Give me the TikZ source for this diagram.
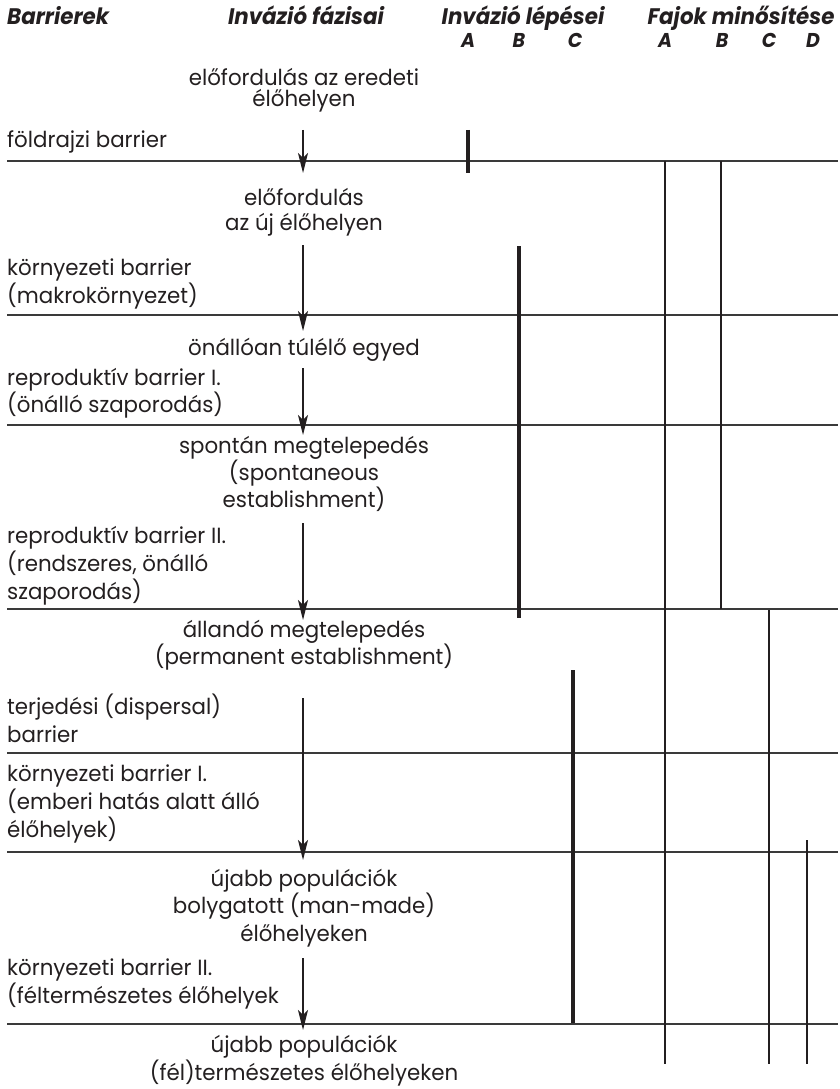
\documentclass[tikz,border=0pt]{standalone}
\usepackage{fontspec}
\setmainfont{Poppins}[FakeStretch=0.97]
\newfontfamily\hdrfamily{Poppins}[FakeStretch=0.95]
\usetikzlibrary{arrows.meta}
\definecolor{ink}{HTML}{231F20}
\definecolor{rule}{HTML}{3A3A3A}
\newcommand{\bodyfont}{\fontsize{22}{28}\selectfont}
\newcommand{\hdrfont}{\hdrfamily\fontsize{22.5}{26}\selectfont\bfseries\itshape}
\newcommand{\letfont}{\hdrfamily\fontsize{20}{24}\selectfont\bfseries\itshape}
\tikzset{
  lefttxt/.style={anchor=base west, align=left, inner sep=0pt, font=\bodyfont, text=ink},
  midtxt/.style={anchor=base, align=center, inner sep=0pt, font=\bodyfont, text=ink},
  hdr/.style={anchor=base, inner sep=0pt, font=\hdrfont, text=ink},
  lettr/.style={anchor=base, inner sep=0pt, font=\letfont, text=ink},
  barrierline/.style={draw=rule, line width=1.6pt},
  thickbar/.style={draw=ink, line width=4.6pt},
  thinbar/.style={draw=ink, line width=2.5pt},
  arr/.style={draw=ink, line width=1.3pt, -{Stealth[length=20pt, width=10pt, inset=5pt]}}
}
\begin{document}
\begin{tikzpicture}[x=1pt, y=-1pt]
\useasboundingbox (0,0) rectangle (839,1089);

% headers
\node[hdr, anchor=base west] (h1) at (7,25) {Barrierek};
\node[hdr] (h2) at (306,25) {Invázió fázisai};
\node[hdr] (h3) at (523,25) {Invázió lépései};
\node[hdr] (h4) at (741,25) {Fajok minősítése};
\node[lettr] (lA) at (468,48) {A};
\node[lettr] (lB) at (519,48) {B};
\node[lettr] (lC) at (575,48) {C};
\node[lettr] (fA) at (665,48) {A};
\node[lettr] (fB) at (722,48) {B};
\node[lettr] (fC) at (769,48) {C};
\node[lettr] (fD) at (813,48) {D};

% barrier lines
\foreach \y in {161,315,425,609,753,852,1024}
  \draw[barrierline] (7,\y) -- (838,\y);

% invasion step bars
\draw[thickbar] (468,130) -- (468,173);
\draw[thickbar] (519,246) -- (519,618);
\draw[thickbar] (573,670) -- (573,1023);
% species category bars
\draw[thinbar] (665,161) -- (665,1064);
\draw[thinbar] (721,161) -- (721,609);
\draw[thinbar] (769,610) -- (769,1064);
\draw[thinbar] (807,840) -- (807,1064);

% barriers (left column); anchor = baseline of last line
\node[lefttxt] (b1) at (7,147) {földrajzi barrier};
\node[lefttxt] (b2) at (7,303) {környezeti barrier\\(makrokörnyezet)};
\node[lefttxt] (b3) at (7,412) {reproduktív barrier I.\\[-1pt](önálló szaporodás)};
\node[lefttxt] (b4) at (7,599) {reproduktív barrier II.\\(rendszeres, önálló\\szaporodás)};
\node[lefttxt] (b5) at (7,742) {terjedési (dispersal)\\barrier};
\node[lefttxt] (b6) at (7,837) {környezeti barrier I.\\(emberi hatás alatt álló\\élőhelyek)};
\node[lefttxt] (b7) at (7,1003) {környezeti barrier II.\\(féltermészetes élőhelyek};

% invasion phases (centre column)
\node[midtxt] (p1) at (304,107) {előfordulás az eredeti\\[-7pt]élőhelyen};
\node[midtxt] (p2) at (304,230) {előfordulás\\[-3pt]az új élőhelyen};
\node[midtxt] (p3) at (304,355) {önállóan túlélő egyed};
\node[midtxt] (p4) at (304,507) {spontán megtelepedés\\[-1pt](spontaneous\\[-1pt]establishment)};
\node[midtxt] (p5) at (304,664) {állandó megtelepedés\\[-1pt](permanent establishment)};
\node[midtxt] (p6) at (304,941) {újabb populációk\\[-0.5pt]bolygatott (man-made)\\[-0.5pt]élőhelyeken};
\node[midtxt] (p7) at (304,1080) {újabb populációk\\[0pt](fél)természetes élőhelyeken};

% arrows
\coordinate (a1s) at (303,130); \coordinate (a1e) at (303,173);
\coordinate (a2s) at (303,245); \coordinate (a2e) at (303,331);
\coordinate (a3s) at (303,368); \coordinate (a3e) at (303,435);
\coordinate (a4s) at (303,523); \coordinate (a4e) at (303,620);
\coordinate (a5s) at (303,698); \coordinate (a5e) at (303,860);
\coordinate (a6s) at (303,958); \coordinate (a6e) at (303,1030);
\foreach \i in {1,...,6}
  \draw[arr] (a\i s) -- (a\i e);
\end{tikzpicture}
\end{document}
